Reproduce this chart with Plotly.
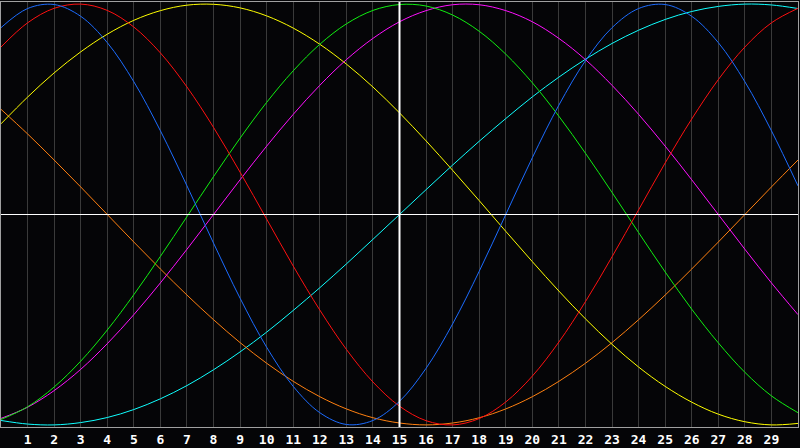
import plotly.graph_objects as go

# days shown on the chart
days = list(range(0, 31))
tick_days = list(range(1, 30))

# cycle values, one per day (-1 .. 1)
cycle_23 = [0.888, 0.979, 0.998, 0.942, 0.817, 0.631, 0.398, 0.136, -0.136, -0.398,
            -0.631, -0.817, -0.942, -0.998, -0.979, -0.888, -0.731, -0.520, -0.270, 0.000,
            0.270, 0.520, 0.731, 0.888, 0.979, 0.998, 0.942, 0.817, 0.631, 0.398, 0.136]
cycle_28 = [0.796, 0.911, 0.980, 1.000, 0.970, 0.891, 0.768, 0.606, 0.414, 0.201,
            -0.022, -0.245, -0.454, -0.641, -0.796, -0.911, -0.980, -1.000, -0.970, -0.891,
            -0.768, -0.606, -0.414, -0.201, 0.022, 0.245, 0.454, 0.641, 0.796, 0.911, 0.980]
cycle_33 = [-0.974, -0.914, -0.820, -0.697, -0.549, -0.381, -0.199, -0.010, 0.180, 0.363,
            0.533, 0.683, 0.809, 0.906, 0.970, 0.998, 0.991, 0.948, 0.871, 0.762,
            0.626, 0.467, 0.291, 0.105, -0.086, -0.273, -0.450, -0.610, -0.750, -0.862, -0.942]
cycle_38 = [-0.969, -0.916, -0.837, -0.736, -0.614, -0.476, -0.325, -0.165, 0.000, 0.165,
            0.325, 0.476, 0.614, 0.736, 0.837, 0.916, 0.969, 0.997, 0.997, 0.969,
            0.916, 0.837, 0.736, 0.614, 0.476, 0.325, 0.165, 0.000, -0.165, -0.325, -0.476]
cycle_43 = [0.431, 0.558, 0.673, 0.773, 0.857, 0.923, 0.969, 0.995, 0.999, 0.982,
            0.944, 0.886, 0.809, 0.715, 0.606, 0.483, 0.350, 0.210, 0.066, -0.080,
            -0.224, -0.364, -0.496, -0.617, -0.725, -0.817, -0.892, -0.949, -0.985, -1.000, -0.993]
cycle_48 = [0.500, 0.383, 0.259, 0.131, 0.000, -0.131, -0.259, -0.383, -0.500, -0.609,
            -0.707, -0.793, -0.866, -0.924, -0.966, -0.991, -1.000, -0.991, -0.966, -0.924,
            -0.866, -0.793, -0.707, -0.609, -0.500, -0.383, -0.259, -0.131, 0.000, 0.131, 0.259]
cycle_53 = [-0.979, -0.996, -1.000, -0.989, -0.965, -0.927, -0.876, -0.813, -0.738, -0.653,
            -0.559, -0.456, -0.348, -0.235, -0.118, 0.000, 0.118, 0.235, 0.348, 0.456,
            0.559, 0.653, 0.738, 0.813, 0.876, 0.927, 0.965, 0.989, 1.000, 0.996, 0.979]

BG = '#050507'

fig = go.Figure()

series = [
    (cycle_53, '#10ffff'),
    (cycle_48, '#ff8010'),
    (cycle_43, '#ffff00'),
    (cycle_38, '#ff10ff'),
    (cycle_33, '#10f010'),
    (cycle_28, '#ff1010'),
    (cycle_23, '#1c6cff'),
]
for vals, color in series:
    fig.add_trace(go.Scatter(x=days, y=vals, mode='lines',
        line=dict(color=color, width=1, shape='spline', smoothing=1.0),
        hoverinfo='skip', showlegend=False))

# white crosshair: today (day 15) and the zero line
fig.add_shape(type='line', xref='x', yref='paper', x0=15, x1=15, y0=0, y1=1,
    line=dict(color='white', width=2), layer='above')
fig.add_shape(type='line', xref='paper', yref='y', x0=0, x1=1, y0=0, y1=0,
    line=dict(color='white', width=1), layer='above')

fig.update_layout(
    width=800, height=448,
    margin=dict(l=1, r=1, t=1, b=20),
    paper_bgcolor=BG, plot_bgcolor=BG,
    showlegend=False,
)
fig.update_xaxes(range=[0, 30], tickvals=tick_days, ticktext=[str(d) for d in tick_days],
    showgrid=True, gridcolor='#3a3a3a', gridwidth=1, zeroline=False,
    showline=True, mirror=True, linecolor='#a0a0a0', linewidth=1,
    ticks='', tickfont=dict(family='DejaVu Sans Mono', size=13, color='white', weight='bold'))
fig.update_yaxes(range=[-1.01, 1.01], showgrid=False, zeroline=False,
    showticklabels=False, showline=True, mirror=True, linecolor='#a0a0a0', linewidth=1)

# page body has a default 8px margin; drop it so the chart fills the window
fig.write_html("out.html", config={'displayModeBar': False},
               post_script="document.body.style.margin='0';")
